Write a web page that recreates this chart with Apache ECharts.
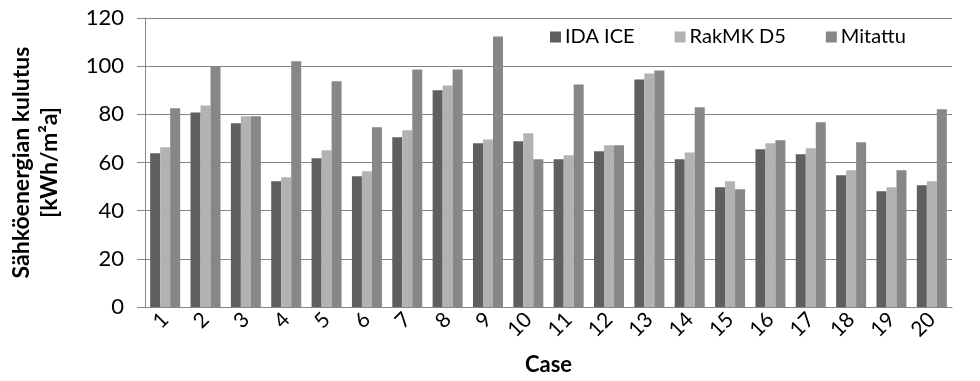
<!DOCTYPE html>
<html><head><meta charset="utf-8">
<script src="https://cdn.jsdelivr.net/npm/echarts@6/dist/echarts.min.js"></script>
<style>html,body{margin:0;padding:0;background:#fff}#c{width:980px;height:381px}</style>
</head><body><div id="c"></div>
<script>
const categories = ['1','2','3','4','5','6','7','8','9','10','11','12','13','14','15','16','17','18','19','20'];
const idaIce  = [63.8, 80.8, 76.3, 52.2, 61.8, 54.3, 70.5, 90.0, 68.0, 68.8, 61.3, 64.7, 94.5, 61.3, 49.7, 65.5, 63.4, 54.7, 48.1, 50.6];
const rakMK   = [66.3, 83.7, 79.2, 53.9, 65.1, 56.4, 73.4, 92.0, 69.6, 72.1, 63.0, 67.2, 97.0, 64.2, 52.2, 68.0, 65.9, 56.8, 49.7, 52.2];
const mitattu = [82.5, 99.8, 79.2, 102.0, 93.7, 74.6, 98.6, 98.6, 112.3, 61.3, 92.4, 67.2, 98.2, 82.9, 48.9, 69.2, 76.7, 68.4, 56.8, 82.1];
const seriesNames = ['IDA ICE', 'RakMK D5', 'Mitattu'];
const yTicks = { min: 0, max: 120, interval: 20 };

const FONT = 'Lato';
const chart = echarts.init(document.getElementById('c'), null, { renderer: 'canvas' });
const colors = ['#5f5f5f', '#b2b2b2', '#878787'];
chart.setOption({
  animation: false,
  textStyle: { fontFamily: FONT },
  legend: {
    data: seriesNames,
    top: 22, left: 545,
    itemWidth: 11, itemHeight: 11, itemGap: 40,
    icon: 'rect',
    textStyle: { fontSize: 20, color: '#000', fontFamily: FONT, padding: [0,0,0,-1] }
  },
  grid: { left: 144, right: 28, top: 18, bottom: 74 },
  xAxis: {
    type: 'category', data: categories,
    axisLine: { lineStyle: { color: '#868686', width: 1 } },
    axisTick: { show: false },
    axisLabel: { rotate: 45, fontSize: 21, color: '#000', margin: 9, fontFamily: FONT },
    name: 'Case', nameLocation: 'middle', nameGap: 47,
    nameTextStyle: { fontSize: 22, fontWeight: 'bold', color: '#000', fontFamily: FONT }
  },
  yAxis: {
    type: 'value', min: yTicks.min, max: yTicks.max, interval: yTicks.interval,
    axisLine: { show: true, lineStyle: { color: '#868686', width: 1 } },
    axisTick: { show: true, length: 8, lineStyle: { color: '#868686' } },
    axisLabel: { fontSize: 22, color: '#000', margin: 21, fontFamily: FONT },
    splitLine: { lineStyle: { color: '#868686', width: 1 } },
    name: 'Sähköenergian kulutus\n[kWh/m²a]', nameLocation: 'middle', nameRotate: 90, nameGap: 81,
    nameTextStyle: { fontSize: 23, fontWeight: 'bold', color: '#000', lineHeight: 28, fontFamily: FONT }
  },
  series: [
    { name: seriesNames[0], type: 'bar', data: idaIce, barWidth: 10, barGap: '0%', itemStyle: { color: colors[0] } },
    { name: seriesNames[1], type: 'bar', data: rakMK, barWidth: 10, barGap: '0%', itemStyle: { color: colors[1] } },
    { name: seriesNames[2], type: 'bar', data: mitattu, barWidth: 10, barGap: '0%', itemStyle: { color: colors[2] } }
  ]
});
</script></body></html>
